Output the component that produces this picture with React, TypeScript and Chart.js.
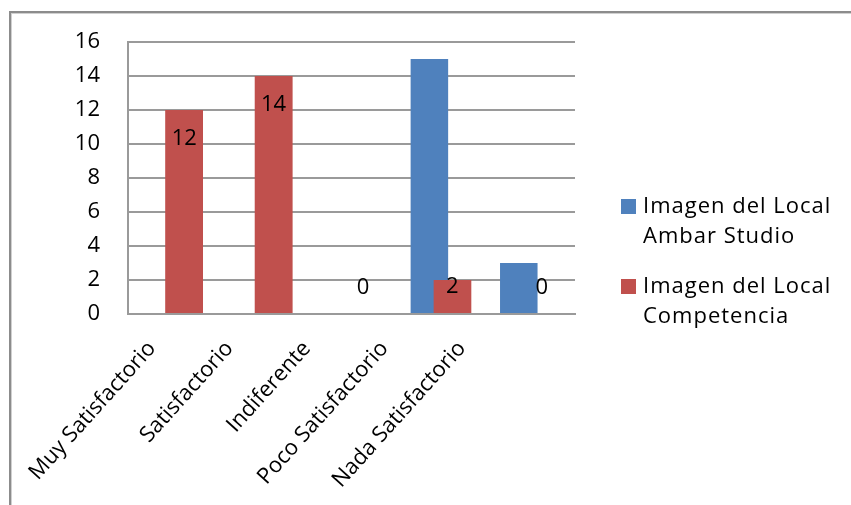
import { useEffect, useRef } from 'react';
import { Chart, registerables } from 'chart.js';

Chart.register(...registerables);

const CATEGORIES = [
  'Muy Satisfactorio',
  'Satisfactorio',
  'Indiferente',
  'Poco Satisfactorio',
  'Nada Satisfactorio',
];
const AMBAR_STUDIO = [0, 0, 0, 15, 3];
const COMPETENCIA = [12, 14, 0, 2, 0];
const SERIES_NAMES = ['Imagen del Local Ambar Studio', 'Imagen del Local Competencia'];
const SERIES_COLORS = ['#4F81BD', '#C0504D'];
const Y_MIN = 0;
const Y_MAX = 16;
const Y_STEP = 2;

const FONT_FAMILY = '"Open Sans", sans-serif';
const FONT_SIZE = 22;
const TEXT_COLOR = '#000000';
const GRID_COLOR = '#9a9a9a';

// white background and the grey frame around the chart
const framePlugin = {
  id: 'frame',
  beforeDraw(chart: any) {
    const { ctx, width, height } = chart;
    ctx.save();
    ctx.fillStyle = '#ffffff';
    ctx.fillRect(0, 0, width, height);
    ctx.fillStyle = '#8c8c8c';
    ctx.fillRect(9, 11, 2, height - 11);
    ctx.fillRect(9, 11, width - 9, 2);
    ctx.fillStyle = '#d0d0d0';
    ctx.fillRect(11, 13, 1, height - 13);
    ctx.fillRect(11, 13, width - 11, 1);
    ctx.restore();
  },
};

// keeps the Competencia bars above the overlapping Ambar Studio bars and prints their values
const competenciaPlugin = {
  id: 'competencia',
  afterDatasetsDraw(chart: any) {
    const { ctx, chartArea } = chart;
    const meta = chart.getDatasetMeta(1);
    ctx.save();
    ctx.beginPath();
    ctx.rect(chartArea.left, chartArea.top - 2, chartArea.right - chartArea.left, chartArea.bottom - chartArea.top + 2);
    ctx.clip();
    meta.data.forEach((el: any) => el.draw(ctx));
    ctx.restore();

    ctx.save();
    ctx.font = `${FONT_SIZE}px ${FONT_FAMILY}`;
    ctx.fillStyle = TEXT_COLOR;
    ctx.textAlign = 'center';
    ctx.textBaseline = 'middle';
    meta.data.forEach((el: any, i: number) => {
      const { x, y, base } = el.getProps(['x', 'y', 'base'], true);
      const ly = Math.min(y + 29, base - 26);
      ctx.fillText(String(COMPETENCIA[i]), x, ly);
    });
    ctx.restore();
  },
};

function wrapText(ctx: CanvasRenderingContext2D, text: string, maxWidth: number): string[] {
  const words = text.split(' ');
  const lines: string[] = [];
  let line = '';
  for (const w of words) {
    const test = line ? line + ' ' + w : w;
    if (line && ctx.measureText(test).width > maxWidth) {
      lines.push(line);
      line = w;
    } else {
      line = test;
    }
  }
  if (line) lines.push(line);
  return lines;
}

// legend on the right with wrapped series names
const legendPlugin = {
  id: 'sideLegend',
  afterDraw(chart: any) {
    const { ctx } = chart;
    const markerX = 621;
    const markerSize = 15;
    const textX = 643;
    const firstBaseline = 213;
    const lineHeight = 30;
    const itemStep = 80;
    ctx.save();
    ctx.font = `${FONT_SIZE}px ${FONT_FAMILY}`;
    (ctx as any).letterSpacing = '1px';
    ctx.textAlign = 'left';
    ctx.textBaseline = 'alphabetic';
    chart.data.datasets.forEach((ds: any, i: number) => {
      const baseline = firstBaseline + i * itemStep;
      ctx.fillStyle = ds.backgroundColor;
      ctx.fillRect(markerX, baseline - 14, markerSize, markerSize);
      ctx.fillStyle = TEXT_COLOR;
      wrapText(ctx, ds.label, 200).forEach((ln, k) => {
        ctx.fillText(ln, textX, baseline + k * lineHeight);
      });
    });
    ctx.restore();
  },
};

export default function App() {
  const canvasRef = useRef<HTMLCanvasElement | null>(null);

  useEffect(() => {
    const canvas = canvasRef.current;
    if (!canvas) return;
    const font = { family: FONT_FAMILY, size: FONT_SIZE };
    const chart = new Chart(canvas, {
      type: 'bar',
      data: {
        labels: CATEGORIES,
        datasets: [
          {
            label: SERIES_NAMES[0],
            data: AMBAR_STUDIO,
            backgroundColor: SERIES_COLORS[0],
            categoryPercentage: 0.515,
            barPercentage: 1.63,
          },
          {
            label: SERIES_NAMES[1],
            data: COMPETENCIA,
            backgroundColor: SERIES_COLORS[1],
            categoryPercentage: 0.515,
            barPercentage: 1.63,
          },
        ],
      },
      options: {
        responsive: false,
        animation: false,
        layout: { padding: { left: 0, top: 42, right: 276, bottom: 0 } },
        plugins: {
          legend: { display: false },
          tooltip: { enabled: false },
        },
        scales: {
          x: {
            type: 'category',
            position: 'bottom',
            grid: { display: false, drawTicks: false },
            border: { display: true, color: GRID_COLOR, width: 2 },
            ticks: { display: false },
            afterFit: (s: any) => {
              s.height = 0;
            },
          },
          // category names, rotated and spaced on their own axis
          xLabels: {
            type: 'linear',
            position: 'bottom',
            bounds: 'data',
            offset: false,
            min: -0.31,
            max: 5.46,
            grid: { display: false, drawTicks: false, offset: false },
            border: { display: false },
            afterBuildTicks: (s: any) => {
              s.ticks = CATEGORIES.map((_, i) => ({ value: i }));
            },
            ticks: {
              autoSkip: false,
              minRotation: 48,
              maxRotation: 48,
              padding: 22,
              color: TEXT_COLOR,
              font,
              callback: (v: any) => CATEGORIES[Math.round(Number(v))] ?? '',
            },
            afterFit: (s: any) => {
              s.height = 191;
            },
          },
          y: {
            min: Y_MIN,
            max: Y_MAX,
            ticks: { stepSize: Y_STEP, padding: 28, color: TEXT_COLOR, font },
            grid: { color: GRID_COLOR, lineWidth: 2, drawTicks: false },
            border: { display: true, color: GRID_COLOR, width: 2 },
            afterFit: (s: any) => {
              s.width = 128;
            },
          },
        },
      },
      plugins: [framePlugin, competenciaPlugin, legendPlugin],
    } as any);
    return () => chart.destroy();
  }, []);

  return (
    <div style={{ position: 'fixed', left: 0, top: 0, width: 851, height: 505, background: '#fff' }}>
      <canvas ref={canvasRef} width={851} height={505} style={{ display: 'block' }} />
    </div>
  );
}
